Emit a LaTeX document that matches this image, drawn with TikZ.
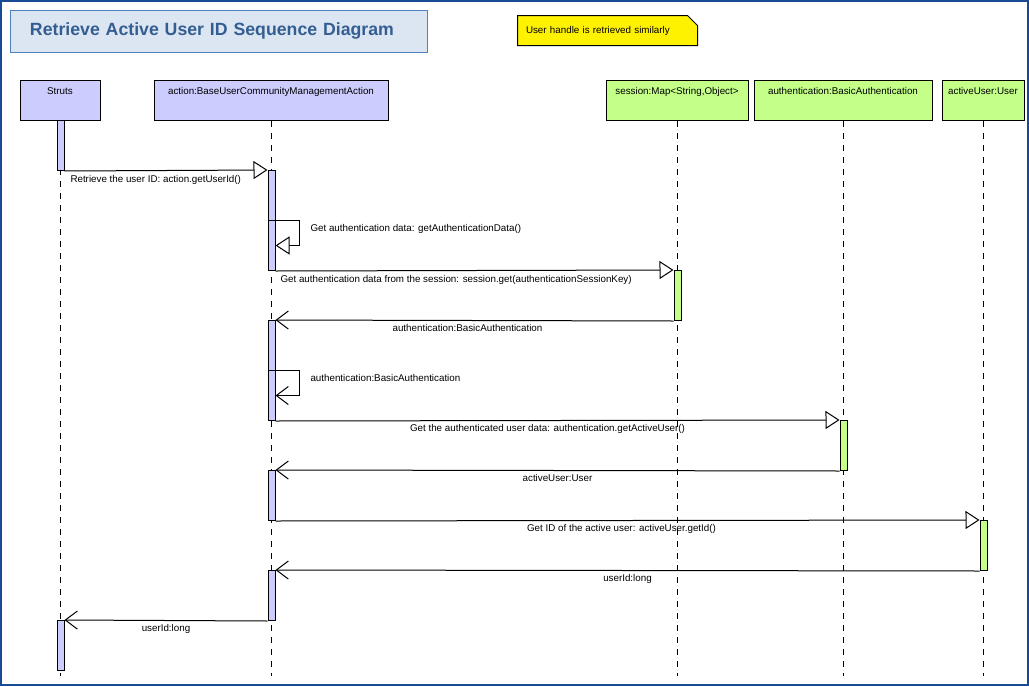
\documentclass[tikz,border=0pt]{standalone}
\usepackage{fontspec}
\setmainfont{Liberation Sans}
\usetikzlibrary{arrows.meta,calc}
\definecolor{framecol}{RGB}{24,74,150}
\definecolor{titlefill}{RGB}{220,230,242}
\definecolor{titleline}{RGB}{79,129,189}
\definecolor{titletext}{RGB}{52,94,146}
\definecolor{lav}{RGB}{204,204,255}
\definecolor{lime}{RGB}{196,255,136}
\newcommand{\umlfont}{\fontsize{9.8}{11}\selectfont}
\tikzstyle{head}=[draw, anchor=north, text height=10pt, text depth=22pt, inner ysep=4pt, inner xsep=2pt, font=\umlfont]
\tikzstyle{bar}=[draw, anchor=north, minimum width=7pt, inner sep=0pt]
\tikzstyle{lifeline}=[dash pattern=on 6pt off 6pt]
\tikzstyle{call}=[-{Triangle[length=14pt, width=18pt, fill=white]}]
\tikzstyle{reply}=[-{Straight Barb[length=12pt, width=18pt]}]
\tikzstyle{msg}=[font=\umlfont, inner sep=1.5pt, yshift=-2pt]

\begin{document}
\begin{tikzpicture}[x=1pt, y=-1pt, line width=1pt]
  \useasboundingbox (0,0) rectangle (1029,686);

  % title and note
  \node (title) at (218.5,31) [draw=titleline, fill=titlefill, minimum height=42pt, text width=377pt, inner xsep=20pt, align=left, text=titletext, font=\fontsize{17.7}{20}\selectfont\bfseries] {Retrieve Active User ID Sequence Diagram};
  \node (note) at (607.5,30.5) [minimum height=29pt, text width=163pt, inner xsep=8pt, align=left, font=\umlfont] {};
  \draw [fill=yellow] (note.north west) -- ($(note.north east)+(-10,0)$) -- ($(note.north east)+(0,10)$) -- (note.south east) -- (note.south west) -- cycle;
  \node at (note) [text width=163pt, inner xsep=8pt, align=left, font=\umlfont] {User handle is retrieved similarly};

  % lifeline heads
  \begin{scope}
    \node (struts) at (60,80) [head, fill=lav, minimum width=80pt] {Struts};
    \node (action) at (271,80) [head, fill=lav, minimum width=234pt] {action:BaseUserCommunityManagementAction};
    \node (session) at (677,80) [head, fill=lime, minimum width=142pt] {session:Map<String,Object>};
    \node (auth) at (843,80) [head, fill=lime, minimum width=178pt] {authentication:BasicAuthentication};
    \node (user) at (983,80) [head, fill=lime, minimum width=82pt] {activeUser:User};
  \end{scope}

  % lifelines
  \begin{scope}
    \coordinate (strutsend) at (60,676);
    \coordinate (actionend) at (271,676);
    \coordinate (sessionend) at (677,676);
    \coordinate (authend) at (843,676);
    \coordinate (userend) at (983,676);
    \draw [lifeline] (struts.south) -- (strutsend);
    \draw [lifeline] (action.south) -- (actionend);
    \draw [lifeline] (session.south) -- (sessionend);
    \draw [lifeline] (auth.south) -- (authend);
    \draw [lifeline] (user.south) -- (userend);
  \end{scope}

  % activations
  \begin{scope}
    \node (s1) at (60.5,120) [bar, fill=lav, minimum height=50pt] {};
    \node (s2) at (60.5,620) [bar, fill=lav, minimum height=50pt] {};
    \node (a1) at (271.5,170) [bar, fill=lav, minimum height=100pt] {};
    \node (a1n) at (271.5,220) [bar, fill=lav, minimum height=50pt] {};
    \node (a2) at (271.5,320) [bar, fill=lav, minimum height=100pt] {};
    \node (a2n) at (271.5,370) [bar, fill=lav, minimum height=50pt] {};
    \node (a3) at (271.5,470) [bar, fill=lav, minimum height=50pt] {};
    \node (a4) at (271.5,570) [bar, fill=lav, minimum height=50pt] {};
    \node (e1) at (677.5,270) [bar, fill=lime, minimum height=50pt] {};
    \node (u1) at (843.5,420) [bar, fill=lime, minimum height=50pt] {};
    \node (v1) at (983.5,520) [bar, fill=lime, minimum height=50pt] {};
  \end{scope}

  % messages
  \begin{scope}
    \draw [call] (s1.south east) -- node[msg, pos=0, anchor=north west, xshift=4pt] {Retrieve the user ID: action.getUserId()} (a1.north west);
    \draw [call] (a1n.north east) -- ++(24,0) node[msg, anchor=north west, xshift=9pt] {Get authentication data: getAuthenticationData()} |- (a1n.east);
    \draw [call] (a1.south east) -- node[msg, pos=0, anchor=north west, xshift=3pt] {Get authentication data from the session: session.get(authenticationSessionKey)} (e1.north west);
    \draw [reply] (e1.south west) -- node[msg, below, xshift=-7pt] {authentication:BasicAuthentication} (a2.north east);
    \draw [reply] (a2n.north east) -- ++(24,0) node[msg, anchor=north west, xshift=9pt] {authentication:BasicAuthentication} |- (a2n.east);
    \draw [call] (a2.south east) -- node[msg, below, xshift=-10pt] {Get the authenticated user data: authentication.getActiveUser()} (u1.north west);
    \draw [reply] (u1.south west) -- node[msg, below] {activeUser:User} (a3.north east);
    \draw [call] (a3.south east) -- node[msg, below, xshift=-6pt] {Get ID of the active user: activeUser.getId()} (v1.north west);
    \draw [reply] (v1.south west) -- node[msg, below] {userId:long} (a4.north east);
    \draw [reply] (a4.south west) -- node[msg, below] {userId:long} (s2.north east);
  \end{scope}

  \draw [framecol, line width=2pt] (1,1) rectangle (1028,685);
\end{tikzpicture}
\end{document}
